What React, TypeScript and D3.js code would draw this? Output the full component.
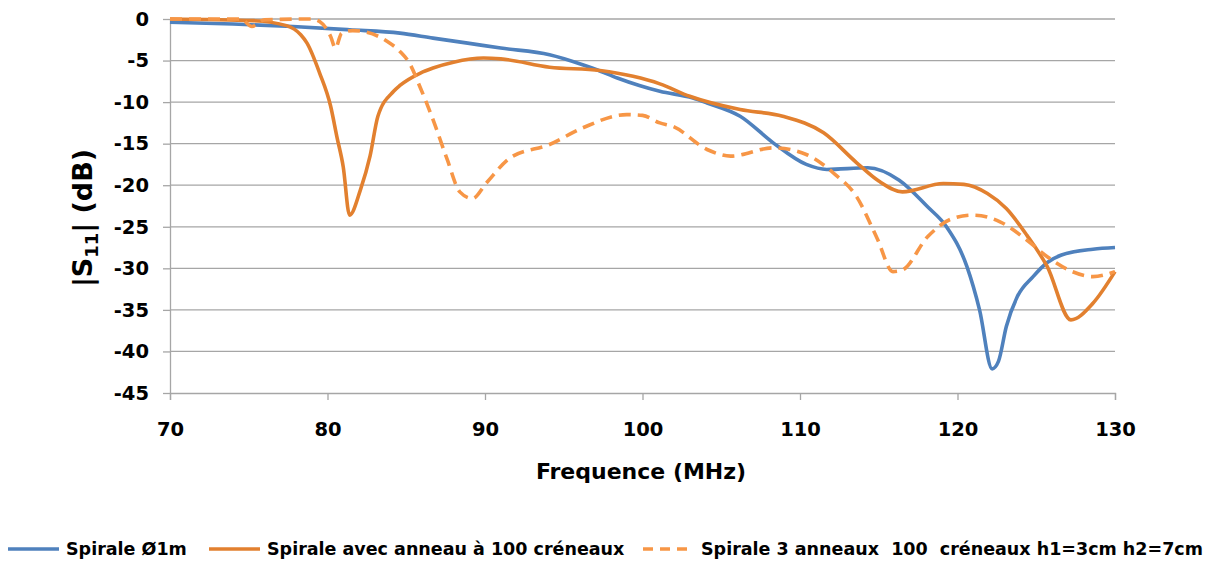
import React, { useEffect, useRef } from "react";
import * as d3 from "d3";

// ─── Data ────────────────────────────────────────────────────────────────────
const xTicks = [70, 80, 90, 100, 110, 120, 130];
const yTicks = [0, -5, -10, -15, -20, -25, -30, -35, -40, -45];

const seriesNames = [
  "Spirale Ø1m",
  "Spirale avec anneau à 100 créneaux",
  "Spirale 3 anneaux  100  créneaux h1=3cm h2=7cm",
];

const spiraleFreq = [
  70, 74, 77.8, 81.4, 84.6, 86.7, 88.9, 91, 94.1, 96.2, 97.1, 98.4, 99.8, 101.1,
  103.2, 104.1, 106.2, 108.3, 110.4, 111.7, 114.3, 116.3, 118.1, 119.3, 120.6,
  121.4, 122.2, 122.6, 123.1, 123.8, 124.8, 125.7, 126.6, 128.6, 130,
];
const spiraleDb = [
  -0.4, -0.6, -0.9, -1.3, -1.7, -2.3, -2.9, -3.5, -4.3, -5.5, -6.1, -7.1, -8.0, -8.7,
  -9.5, -10.1, -11.7, -14.9, -17.5, -18.1, -17.9, -19.4, -22.6, -25, -29.8,
  -35, -42.1, -41.2, -37, -33.4, -31, -29.3, -28.4, -27.7, -27.5,
];

const anneauFreq = [
  70, 75.3, 77.4, 78.3, 78.7, 79.5, 80.2, 80.6, 81, 81.4, 82.1, 82.7, 83.2, 84.2,
  84.6, 85.9, 86.7, 88, 89.9, 91, 94.1, 97.3, 99.4, 101.1, 103, 106.2, 108.9,
  111.5, 113.6, 115, 116.5, 119.1, 120.4, 121.9, 123.1, 124.4, 125.7, 127.2,
  128.6, 130,
];
const anneauDb = [
  0, -0.2, -0.8, -1.9, -2.9, -6.5, -10.5, -14.2, -17.8, -23.6, -20.5, -16.5, -11.7, -8.7,
  -8.0, -6.5, -5.9, -5.2, -4.7, -4.8, -5.8, -6.2, -6.9, -7.8, -9.3, -10.9, -11.7,
  -13.7, -17.3, -19.5, -20.8, -19.8, -19.9, -21, -22.8, -26, -29.8, -36.2,
  -34.2, -30.4,
];

const troisFreq = [
  70, 74.5, 75.2, 76, 79, 79.5, 80.2, 80.5, 80.9, 81.6, 82.5, 83.8, 84.6, 85.2,
  85.9, 86.7, 87.6, 88.4, 89.2, 90.1, 91.6, 94.1, 96.2, 99, 100, 101.1, 101.9,
  104.1, 105.6, 108.3, 110.4, 112.1, 113.6, 114.9, 115.9, 116.5, 118.1, 119.7,
  121, 122.7, 124.4, 125.7, 127.3, 128.6, 130,
];
const troisDb = [
  0, 0, -0.9, -0.1, 0, -0.3, -2.1, -3.5, -1.7, -1.4, -1.6, -2.7, -3.9, -5.3,
  -8.3, -12.1, -16.9, -20.8, -21.6, -19.7, -16.7, -15.1, -13.1, -11.5, -11.6, -12.5, -12.9,
  -15.7, -16.5, -15.5, -16.3, -18.5, -21.4, -26.4, -30.4, -30.2, -26.2, -24,
  -23.6, -24.4, -26.6, -28.6, -30.4, -31, -30.4,
];

// ─── Design tokens ───────────────────────────────────────────────────────────
const WIDTH = 1215;
const HEIGHT = 563;
const PLOT = { left: 170, right: 1115, top: 19, bottom: 393 };
const BLUE = "#4F81BD";
const ORANGE = "#E2802F";
const ORANGE_LIGHT = "#F79646";
const GRID = "#A6A6A6";
const TEXT = "#000000";
const FONT = "'DejaVu Sans', sans-serif";

export default function App() {
  const svgRef = useRef<SVGSVGElement>(null);

  useEffect(() => {
    const node = svgRef.current;
    if (!node) return;
    const svg = d3.select(node);
    svg.selectAll("*").remove();

    const x = d3.scaleLinear().domain([70, 130]).range([PLOT.left, PLOT.right]);
    const y = d3.scaleLinear().domain([-45, 0]).range([PLOT.bottom, PLOT.top]);

    // ── Horizontal grid ──
    svg
      .append("g")
      .selectAll("line")
      .data(yTicks.filter((t) => t !== -45))
      .join("line")
      .attr("x1", PLOT.left)
      .attr("x2", PLOT.right)
      .attr("y1", (d) => y(d))
      .attr("y2", (d) => y(d))
      .attr("stroke", GRID)
      .attr("stroke-width", 1.3);

    // ── Axes (plain hyphen for negatives, like the source) ──
    const fmt = (d: d3.NumberValue) => String(d);

    const xAxis = svg
      .append("g")
      .attr("transform", `translate(0,${PLOT.bottom})`)
      .call(
        d3.axisBottom(x).tickValues(xTicks).tickFormat(fmt).tickSize(7).tickSizeOuter(7).tickPadding(22),
      );
    xAxis.select(".domain").attr("stroke", GRID).attr("stroke-width", 1.3);
    xAxis.selectAll(".tick line").attr("stroke", GRID).attr("stroke-width", 1.3);
    xAxis
      .selectAll("text")
      .attr("fill", TEXT)
      .attr("font-family", FONT)
      .attr("font-weight", "bold")
      .attr("font-size", 19.5);

    const yAxis = svg
      .append("g")
      .attr("transform", `translate(${PLOT.left},0)`)
      .call(
        d3.axisLeft(y).tickValues(yTicks).tickFormat(fmt).tickSize(7).tickSizeOuter(0).tickPadding(14),
      );
    yAxis.select(".domain").attr("stroke", GRID).attr("stroke-width", 1.3);
    yAxis.selectAll(".tick line").attr("stroke", GRID).attr("stroke-width", 1.3);
    yAxis
      .selectAll("text")
      .attr("fill", TEXT)
      .attr("font-family", FONT)
      .attr("font-weight", "bold")
      .attr("font-size", 19.5);

    // ── Axis titles ──
    svg
      .append("text")
      .attr("x", 641)
      .attr("y", 479)
      .attr("text-anchor", "middle")
      .attr("font-family", FONT)
      .attr("font-weight", "bold")
      .attr("font-size", 22)
      .attr("fill", TEXT)
      .text("Frequence (MHz)");

    const yTitle = svg
      .append("text")
      .attr("transform", `translate(92,218) rotate(-90)`)
      .attr("text-anchor", "middle")
      .attr("font-family", FONT)
      .attr("font-weight", "bold")
      .attr("font-size", 27)
      .attr("fill", TEXT);
    yTitle.append("tspan").text("|S");
    yTitle.append("tspan").attr("font-size", 18).attr("dy", 6).text("11");
    yTitle.append("tspan").attr("dy", -6).text("| (dB)");

    // ── Series ──
    const series = [
      { freq: spiraleFreq, db: spiraleDb, color: BLUE, dash: null as string | null },
      { freq: anneauFreq, db: anneauDb, color: ORANGE, dash: null as string | null },
      { freq: troisFreq, db: troisDb, color: ORANGE_LIGHT, dash: "12,7" },
    ];

    const line = d3
      .line<[number, number]>()
      .x((d) => x(d[0]))
      .y((d) => y(d[1]))
      .curve(d3.curveMonotoneX);

    series.forEach((s) => {
      const pts = s.freq.map((f, i) => [f, s.db[i]] as [number, number]);
      svg
        .append("path")
        .datum(pts)
        .attr("d", line)
        .attr("fill", "none")
        .attr("stroke", s.color)
        .attr("stroke-width", 3.6)
        .attr("stroke-linejoin", "round")
        .attr("stroke-dasharray", s.dash);
    });

    // ── Legend ──
    const legendX = [8, 209, 643];
    const legendY = 549;
    series.forEach((s, i) => {
      const g = svg.append("g").attr("transform", `translate(${legendX[i]},${legendY})`);
      g.append("line")
        .attr("x1", 0)
        .attr("x2", 51)
        .attr("stroke", s.color)
        .attr("stroke-width", 3.6)
        .attr("stroke-dasharray", s.dash ? "10,7" : null);
      g.append("text")
        .attr("x", 58)
        .attr("y", 6)
        .attr("font-family", FONT)
        .attr("font-weight", "bold")
        .attr("font-size", 17.5)
        .attr("fill", TEXT)
        .style("white-space", "pre")
        .text(seriesNames[i]);
    });
  }, []);

  return (
    <svg
      ref={svgRef}
      width={WIDTH}
      height={HEIGHT}
      style={{ position: "absolute", left: 0, top: 0, background: "#fff" }}
    />
  );
}
